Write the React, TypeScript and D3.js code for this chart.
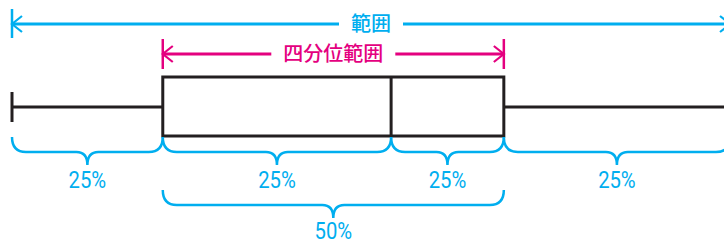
import React, { useEffect, useRef } from 'react';
import * as d3 from 'd3';

// five-number summary (min, Q1, median, Q3, max)
const statNames = ['min', 'q1', 'median', 'q3', 'max'];
const statValues = [0, 21, 52.8, 68.5, 100];
const quarterLabels = ['25%', '25%', '25%', '25%'];
const halfLabel = '50%';
const rangeLabel = '範囲';
const iqrLabel = '四分位範囲';

const BLUE = '#00aeef';
const PINK = '#e4007f';
const INK = '#231f20';

const App = () => {
  const ref = useRef<SVGSVGElement>(null);

  useEffect(() => {
    const width = 724;
    const height = 243;
    const svg = d3.select(ref.current);
    svg.selectAll('*').remove();

    const x = d3.scaleLinear().domain([0, 100]).range([12, 730]);
    const v = (name: string) => x(statValues[statNames.indexOf(name)]);

    const g = svg.append('g');

    // range arrows
    const arrow = (x0: number, x1: number, y: number, color: string, label: string, tickTop: number, tickBot: number) => {
      const a = g.append('g').attr('stroke', color).attr('fill', 'none').attr('stroke-width', 3);
      a.append('line').attr('x1', x0).attr('x2', x1).attr('y1', y).attr('y2', y);
      a.append('line').attr('x1', x0).attr('x2', x0).attr('y1', tickTop).attr('y2', tickBot).attr('stroke-width', 2.5);
      a.append('line').attr('x1', x1).attr('x2', x1).attr('y1', tickTop).attr('y2', tickBot).attr('stroke-width', 2.5);
      a.append('polyline').attr('stroke-width', 2.2)
        .attr('points', `${x0 + 10},${y - 8} ${x0},${y} ${x0 + 10},${y + 8}`);
      a.append('polyline').attr('stroke-width', 2.2)
        .attr('points', `${x1 - 10},${y - 8} ${x1},${y} ${x1 - 10},${y + 8}`);
      const cx = (x0 + x1) / 2;
      const bg = g.append('rect').attr('fill', '#fff');
      const t = g.append('text')
        .attr('x', cx).attr('y', y + 7)
        .attr('text-anchor', 'middle')
        .attr('fill', color)
        .attr('font-family', "'Noto Sans CJK JP', sans-serif")
        .attr('font-weight', 500)
        .attr('font-size', 20)
        .text(label);
      const w = (t.node() as SVGTextElement).getComputedTextLength();
      bg.attr('x', cx - w / 2 - 12).attr('y', y - 6)
        .attr('width', w + 24).attr('height', 12);
    };
    arrow(v('min'), v('max'), 24, BLUE, rangeLabel, 9, 38);
    arrow(v('q1'), v('q3'), 54, PINK, iqrLabel, 39, 69);

    // box plot
    const boxTop = 77;
    const boxBot = 136;
    const mid = 107;
    const b = g.append('g').attr('stroke', INK).attr('stroke-width', 3).attr('fill', 'none');
    b.append('line').attr('x1', v('min')).attr('x2', v('q1')).attr('y1', mid).attr('y2', mid);
    b.append('line').attr('x1', v('q3')).attr('x2', v('max')).attr('y1', mid).attr('y2', mid);
    b.append('line').attr('x1', v('min')).attr('x2', v('min')).attr('y1', 92).attr('y2', 122);
    b.append('line').attr('x1', v('max')).attr('x2', v('max')).attr('y1', 92).attr('y2', 122);
    b.append('rect').attr('x', v('q1')).attr('y', boxTop)
      .attr('width', v('q3') - v('q1')).attr('height', boxBot - boxTop);
    b.append('line').attr('x1', v('median')).attr('x2', v('median')).attr('y1', boxTop).attr('y2', boxBot);

    // braces
    const brace = (x0: number, x1: number, top: number) => {
      const r = 14;
      const m = top + 15;
      const tipY = m + 13;
      const c = (x0 + x1) / 2;
      const rt = 11;
      return `M${x0},${top} Q${x0},${m} ${x0 + r},${m} L${c - rt},${m} Q${c},${m} ${c},${tipY}`
        + ` Q${c},${m} ${c + rt},${m} L${x1 - r},${m} Q${x1},${m} ${x1},${top}`;
    };
    const edges = statNames.map(v);
    const br = g.append('g').attr('stroke', BLUE).attr('fill', 'none').attr('stroke-width', 2.5);
    const lab = g.append('g').attr('fill', BLUE)
      .attr('font-family', 'Roboto, sans-serif').attr('font-size', 23)
      .attr('text-anchor', 'middle');
    quarterLabels.forEach((l, i) => {
      br.append('path').attr('d', brace(edges[i], edges[i + 1], 137));
      lab.append('text')
        .attr('transform', `translate(${(edges[i] + edges[i + 1]) / 2},188) scale(0.88,1)`)
        .text(l);
    });
    br.append('path').attr('d', brace(v('q1'), v('q3'), 190));
    lab.append('text')
      .attr('transform', `translate(${(v('q1') + v('q3')) / 2},239) scale(0.88,1)`)
      .text(halfLabel);

    svg.attr('width', width).attr('height', height);
  }, []);

  return (
    <svg
      ref={ref}
      width={724}
      height={243}
      style={{ position: 'absolute', left: 0, top: 0, background: '#fff' }}
    />
  );
};

export default App;
